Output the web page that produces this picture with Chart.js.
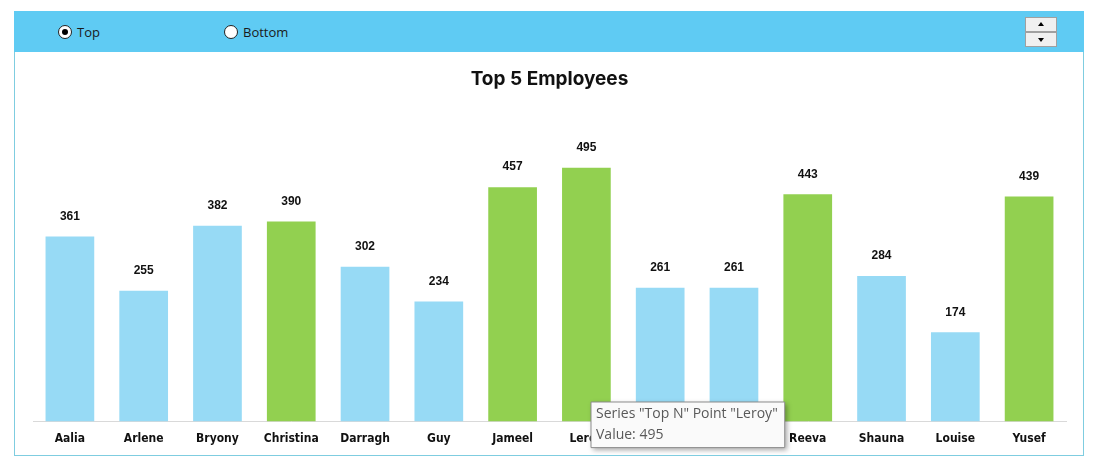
<!DOCTYPE html>
<html>
<head>
<meta charset="utf-8">
<script src="https://cdn.jsdelivr.net/npm/chart.js@4.4.1/dist/chart.umd.min.js"></script>
<style>
    body { margin: 0; background: #ffffff; width: 1096px; height: 468px; overflow: hidden; position: relative; font-family: "Open Sans", "Noto Sans", sans-serif; }
    #topBar { position: absolute; left: 14px; top: 11px; width: 1070px; height: 41px; background: #5fcbf3; }
    .radio { position: absolute; top: 13px; font-size: 13px; color: #1a1a1a; line-height: 16px; }
    .radio .dot { position: absolute; left: 0; top: 1px; width: 12px; height: 12px; border: 1px solid #222; border-radius: 50%; background: #fff; }
    .radio .dot.on::after { content: ""; position: absolute; left: 3px; top: 3px; width: 6px; height: 6px; border-radius: 50%; background: #000; }
    .radio span { position: absolute; left: 19px; top: 0; white-space: nowrap; }
    .spin { position: absolute; left: 1011px; width: 32px; height: 15px; background: #f0f0f0; border: 1px solid #a0a0a0; box-sizing: border-box; }
    .spin::after { content: ""; position: absolute; left: 12px; width: 0; height: 0; border-left: 3px solid transparent; border-right: 3px solid transparent; }
    #up { top: 6px; } #up::after { top: 4px; border-bottom: 4px solid #000; }
    #down { top: 21px; } #down::after { top: 5px; border-top: 4px solid #000; }
    #frame { position: absolute; left: 14px; top: 52px; width: 1068px; height: 403px; border: 1px solid #7fcde0; border-top: none; }
    #chartBox { position: absolute; left: 0; top: 0; width: 1068px; height: 403px; }
</style>
</head>
<body>
<div id="topBar">
    <div class="radio" style="left:44px;"><div class="dot on"></div><span>Top</span></div>
    <div class="radio" style="left:210px;"><div class="dot"></div><span>Bottom</span></div>
    <div class="spin" id="up"></div>
    <div class="spin" id="down"></div>
</div>
<div id="frame">
    <div id="chartBox"><canvas id="topChart"></canvas></div>
</div>
<script>
const employees = ['Aalia', 'Arlene', 'Bryony', 'Christina', 'Darragh', 'Guy', 'Jameel', 'Leroy', 'Mahala', 'Nadia', 'Reeva', 'Shauna', 'Louise', 'Yusef'];
const scores = [361, 255, 382, 390, 302, 234, 457, 495, 261, 261, 443, 284, 174, 439];
const topN = 5;
const chartTitle = 'Top 5 Employees';
const seriesName = 'Top N';

const blueBar = '#97daf5';
const greenBar = '#92d050';

// top N values get the green colour
const cutoff = scores.slice().sort((a, b) => b - a)[topN - 1];
const barColors = scores.map(v => v >= cutoff ? greenBar : blueBar);

const valueLabels = {
    id: 'valueLabels',
    afterDatasetsDraw(chart) {
        const ctx = chart.ctx;
        const meta = chart.getDatasetMeta(0);
        ctx.save();
        ctx.font = 'bold 12px "Liberation Sans", Arial, sans-serif';
        ctx.fillStyle = '#111111';
        ctx.textAlign = 'center';
        ctx.textBaseline = 'middle';
        meta.data.forEach((bar, i) => {
            ctx.fillText(scores[i], bar.x, bar.y - 20);
        });
        ctx.restore();
    }
};

// soft drop shadow behind the tooltip box
const tooltipShadow = {
    id: 'tooltipShadow',
    beforeTooltipDraw(chart, args) {
        const tip = args.tooltip;
        const ctx = chart.ctx;
        ctx.save();
        ctx.shadowColor = 'rgba(0, 0, 0, 0.35)';
        ctx.shadowBlur = 5;
        ctx.shadowOffsetX = 2;
        ctx.shadowOffsetY = 2;
        ctx.fillStyle = '#fafafa';
        ctx.fillRect(tip.x, tip.y, tip.width, tip.height);
        ctx.restore();
    }
};

Chart.Tooltip.positioners.fixedSpot = function() {
    return { x: 576, y: 350 };
};

const ctx = document.getElementById('topChart').getContext('2d');
const topChart = new Chart(ctx, {
    type: 'bar',
    data: {
        labels: employees,
        datasets: [
            {
                label: seriesName,
                data: scores,
                backgroundColor: barColors,
                borderWidth: 0,
                categoryPercentage: 1.0,
                barPercentage: 0.66
            }
        ]
    },
    options: {
        responsive: true,
        maintainAspectRatio: false,
        animation: false,
        events: [],
        layout: {
            padding: { left: 18, right: 17, top: 0, bottom: 7 }
        },
        plugins: {
            legend: { display: false },
            title: {
                display: true,
                text: chartTitle,
                color: '#111111',
                font: { family: 'Inter, "Noto Sans", sans-serif', size: 19, weight: 'bold' },
                padding: { top: 16, bottom: 23 }
            },
            tooltip: {
                enabled: true,
                position: 'fixedSpot',
                xAlign: 'left',
                yAlign: 'top',
                caretSize: 0,
                caretPadding: 0,
                cornerRadius: 0,
                displayColors: false,
                backgroundColor: '#fafafa',
                borderColor: '#8c8c8c',
                borderWidth: 1,
                titleColor: '#595959',
                bodyColor: '#595959',
                titleFont: { family: '"Open Sans", "Noto Sans", sans-serif', size: 14, weight: 'normal' },
                bodyFont: { family: '"Open Sans", "Noto Sans", sans-serif', size: 14, weight: 'normal' },
                titleMarginBottom: 4,
                padding: { left: 5, right: 7, top: 4, bottom: 4 },
                callbacks: {
                    title: items => 'Series "' + seriesName + '" Point "' + items[0].label + '"',
                    label: item => 'Value: ' + item.raw
                }
            }
        },
        scales: {
            x: {
                grid: { display: false },
                border: { display: true, color: '#d9d9d9', width: 1 },
                ticks: {
                    color: '#111111',
                    padding: 2,
                    font: { family: '"Liberation Sans Narrow", "DejaVu Sans Condensed", sans-serif', size: 12, weight: 'bold' }
                }
            },
            y: {
                display: false,
                min: 0,
                max: 600
            }
        }
    },
    plugins: [valueLabels, tooltipShadow]
});

topChart.tooltip.setActiveElements([{ datasetIndex: 0, index: 7 }], { x: 576, y: 350 });
topChart.update();
</script>
</body>
</html>
